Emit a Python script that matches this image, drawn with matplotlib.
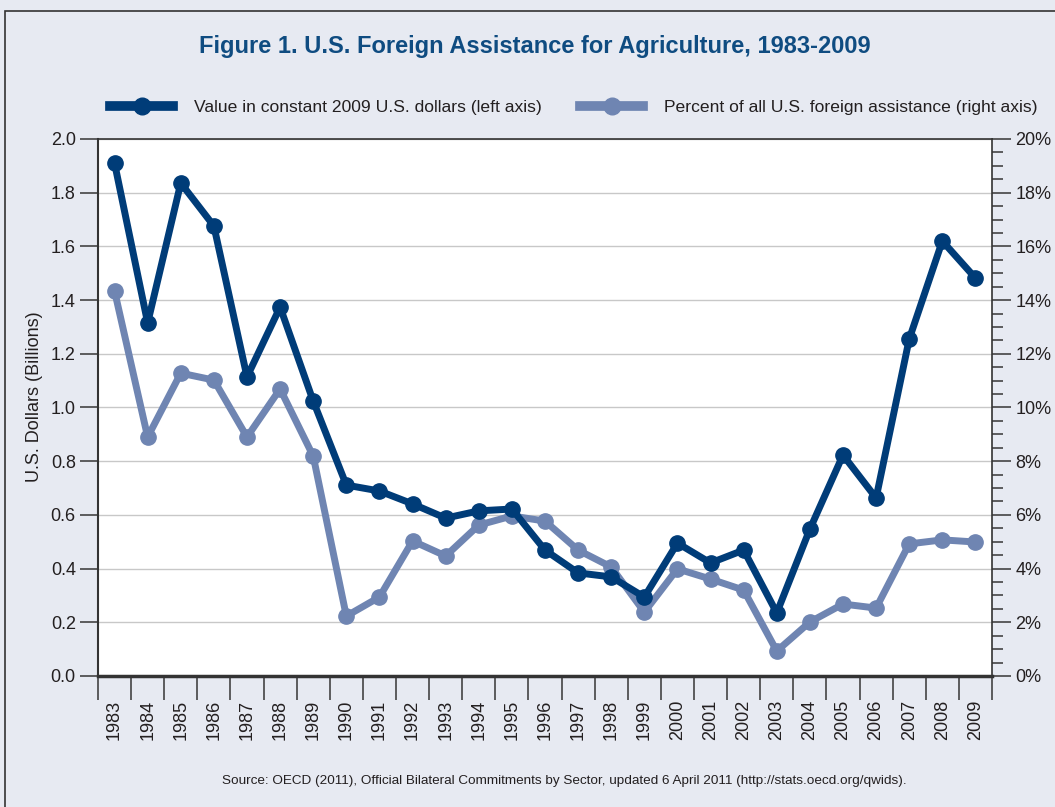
import numpy as np
import matplotlib.pyplot as plt
from matplotlib.patches import Rectangle
from matplotlib.ticker import MultipleLocator, FuncFormatter

plt.rcParams['font.family'] = ['Liberation Sans', 'DejaVu Sans']

# Datos
years = list(range(1983, 2010))
value_bn = [1.91, 1.315, 1.836, 1.676, 1.114, 1.374, 1.024, 0.711, 0.689, 0.641,
            0.588, 0.615, 0.622, 0.469, 0.384, 0.369, 0.294, 0.495, 0.421, 0.469,
            0.235, 0.547, 0.823, 0.663, 1.255, 1.62, 1.482]
percent = [14.34, 8.9, 11.28, 11.02, 8.9, 10.69, 8.19, 2.23, 2.94, 5.03,
           4.47, 5.62, 5.96, 5.77, 4.69, 4.06, 2.38, 3.99, 3.61, 3.2,
           0.93, 2.01, 2.68, 2.53, 4.92, 5.07, 4.99]

dark = '#003c78'
light = '#6f85b2'
bg = '#e7eaf2'
txt = '#231f20'

fig = plt.figure(figsize=(10.55, 8.07), dpi=100, facecolor=bg)
fig.patches.append(Rectangle((5/1055, -0.01), 1.02, 1 - 11/807 + 0.01,
                             transform=fig.transFigure, fill=False,
                             edgecolor='#333333', lw=1.2))

pos = [98/1055, 131/807, (992-98)/1055, (676-139)/807]
ax2 = fig.add_axes(pos)            # eje derecho (porcentaje), abajo
ax = fig.add_axes(pos, sharex=ax2)  # eje izquierdo (dolares), arriba
ax.patch.set_visible(False)
ax2.set_facecolor('white')

x = np.arange(len(years))

ax2.plot(x, percent, '-o', color=light, lw=5, ms=11, solid_capstyle='round',
         solid_joinstyle='round', clip_on=False)
ax.plot(x, value_bn, '-o', color=dark, lw=5, ms=11, solid_capstyle='round',
        solid_joinstyle='round', clip_on=False)

ax.set_xlim(-0.5, len(years) - 0.5)
ax.set_ylim(0, 2.0)
ax2.set_ylim(0, 20)

# grilla en el eje de abajo
ax2.set_yticks(np.arange(0, 21, 2))
ax2.grid(axis='y', color='#c8c8c8', lw=1)
ax2.set_axisbelow(True)
ax2.yaxis.tick_right()
ax2.yaxis.set_minor_locator(MultipleLocator(0.5))
ax2.yaxis.set_major_formatter(FuncFormatter(lambda v, p: f'{v:.0f}%'))
ax2.tick_params(axis='y', which='major', length=14, width=1.2, color='#444444',
                labelsize=13, labelcolor=txt, pad=3)
ax2.tick_params(axis='y', which='minor', length=8, width=1.2, color='#444444')

ax.set_yticks(np.arange(0, 2.01, 0.2))
ax.yaxis.set_major_formatter(FuncFormatter(lambda v, p: f'{v:.1f}'))
ax.tick_params(axis='y', length=13, width=1.2, color='#444444',
               labelsize=13, labelcolor=txt, pad=3)
ax.set_ylabel('U.S. Dollars (Billions)', fontsize=13, color=txt)
ax.yaxis.set_label_coords(-0.062, 0.52)

# eje x: marcas entre categorias, etiquetas al centro
ax2.set_xticks(np.arange(-0.5, len(years), 1.0))
ax2.set_xticks(x, minor=True)
ax2.set_xticklabels(years, minor=True, rotation=90, fontsize=13, color=txt)
ax2.tick_params(axis='x', which='major', length=17, width=1.2, color='#444444',
                labelbottom=False)
ax2.tick_params(axis='x', which='minor', length=0, pad=17)
ax.tick_params(axis='x', which='both', bottom=False, labelbottom=False)

for s in ax2.spines.values():
    s.set_color('#333333')
    s.set_linewidth(1.2)
ax2.spines['bottom'].set_linewidth(2.5)
for s in ax.spines.values():
    s.set_visible(False)
ax.spines['left'].set_visible(True)
ax.spines['left'].set_color('#333333')
ax.spines['left'].set_linewidth(1.5)

fig.text(535/1055, 1 - 47/807, 'Figure 1. U.S. Foreign Assistance for Agriculture, 1983-2009',
         ha='center', va='center', fontsize=17, fontweight='bold', color='#0f4c81')

h1, = ax.plot([], [], '-o', color=dark, lw=7, ms=12)
h2, = ax.plot([], [], '-o', color=light, lw=7, ms=12)
fig.legend([h1, h2], ['Value in constant 2009 U.S. dollars (left axis)',
                      'Percent of all U.S. foreign assistance (right axis)'],
           loc='center', bbox_to_anchor=(574/1055, 1 - 107/807), ncol=2,
           frameon=False, fontsize=12.6, handlelength=3.6, handletextpad=1.2,
           columnspacing=2.2, labelcolor=txt)

fig.text(564/1055, 1 - 781/807,
         'Source: OECD (2011), Official Bilateral Commitments by Sector, updated 6 April 2011 (http://stats.oecd.org/qwids).',
         ha='center', va='center', fontsize=9.7, color=txt)

fig.savefig('out.png', dpi=100, facecolor=bg)
